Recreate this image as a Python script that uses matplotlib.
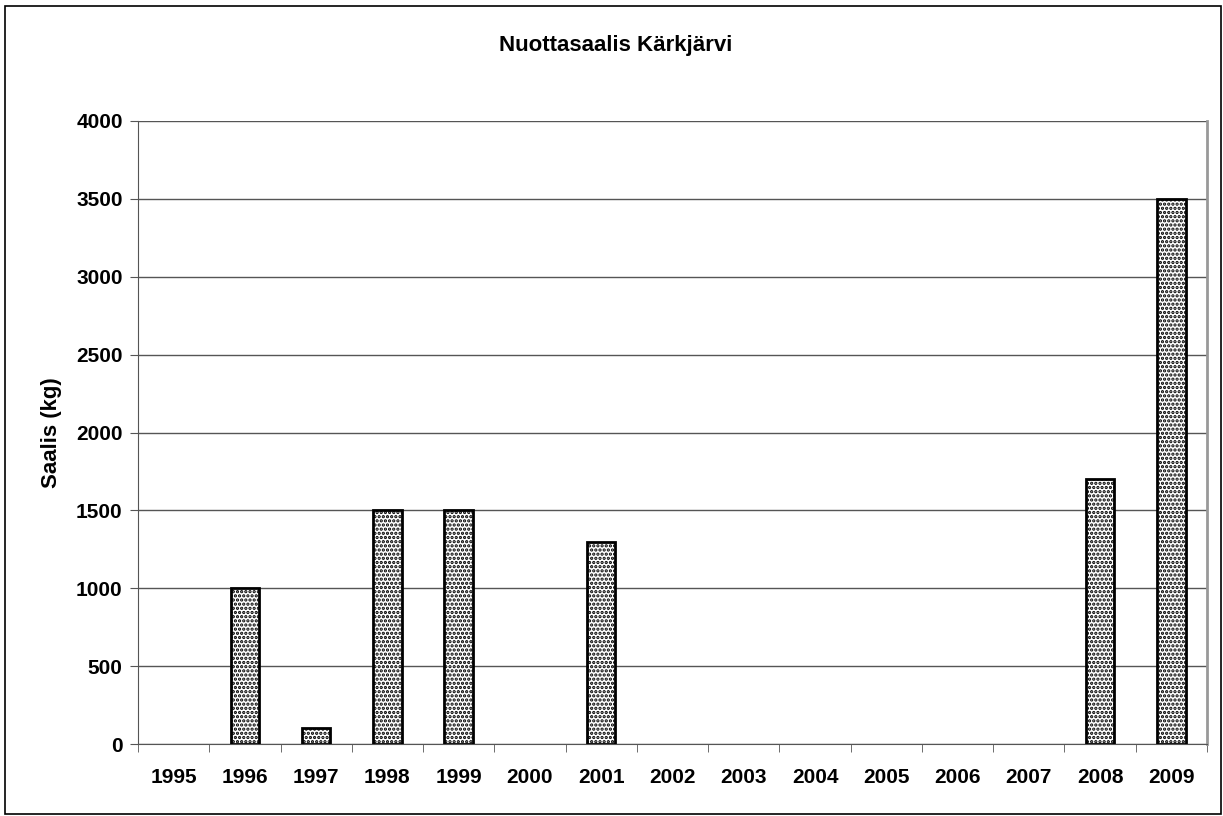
import numpy as np
import matplotlib.pyplot as plt
from matplotlib.patches import Rectangle

years = ['1995', '1996', '1997', '1998', '1999', '2000', '2001', '2002',
         '2003', '2004', '2005', '2006', '2007', '2008', '2009']
saalis = [0, 1000, 100, 1500, 1500, 0, 1300, 0, 0, 0, 0, 0, 0, 1700, 3500]

plt.rcParams['font.family'] = ['Liberation Sans', 'DejaVu Sans']
plt.rcParams['font.weight'] = 'bold'
plt.rcParams['hatch.linewidth'] = 1.6

fig = plt.figure(figsize=(12.23, 8.16), dpi=100)
ax = fig.add_axes([138 / 1223, 1 - 744 / 816, (1207 - 138) / 1223, (744 - 121) / 816])

x = np.arange(len(years))
vals = np.array(saalis, dtype=float)
nz = vals > 0  # tyhjiä vuosia ei piirretä
ax.bar(x[nz], vals[nz], width=0.4, color='white', edgecolor='black', linewidth=2,
       hatch='....', zorder=3)

ax.set_xlim(-0.5, len(years) - 0.5)
ax.set_ylim(0, 4000)
ax.set_yticks(np.arange(0, 4001, 500))
ax.set_xticks(x)
ax.set_xticklabels(years, fontsize=15, fontweight='bold')
ax.set_xticks(np.arange(-0.5, len(years), 1), minor=True)
ax.tick_params(axis='x', which='major', length=0, pad=17)
ax.tick_params(axis='x', which='minor', length=6, color='#555555', direction='out')
ax.tick_params(axis='y', length=6, color='#555555', labelsize=15, pad=5)
for lab in ax.get_yticklabels():
    lab.set_fontweight('bold')

ax.grid(axis='y', color='#555555', linewidth=1, zorder=0)
ax.spines['top'].set_visible(False)
ax.spines['right'].set_color('#999999')
ax.spines['right'].set_linewidth(2)
ax.spines['left'].set_color('#555555')
ax.spines['bottom'].set_color('#555555')

ax.set_ylabel('Saalis (kg)', fontsize=16, fontweight='bold', labelpad=10)
fig.text(616 / 1223, 1 - 46 / 816, 'Nuottasaalis Kärkjärvi', ha='center', va='center',
         fontsize=16, fontweight='bold')

fig.patches.append(Rectangle((5 / 1223, 2 / 816), 1216 / 1223, 808 / 816,
                             transform=fig.transFigure, fill=False,
                             edgecolor='black', linewidth=1.2))

fig.savefig('out.png', dpi=100)
